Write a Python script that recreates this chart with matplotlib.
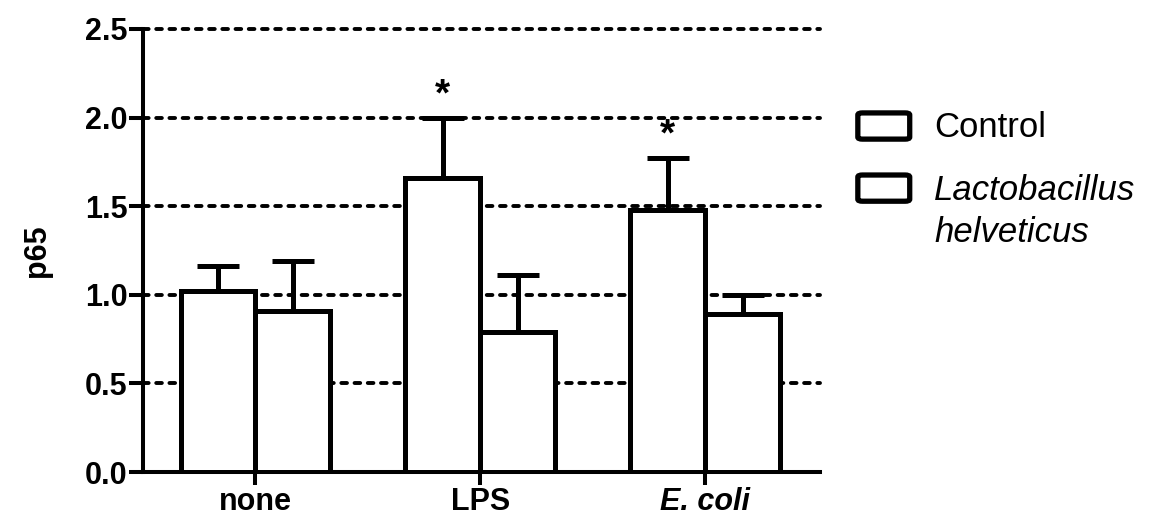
import matplotlib
matplotlib.use("Agg")
import matplotlib.pyplot as plt
import numpy as np
from matplotlib.patches import FancyBboxPatch

plt.rcParams["font.family"] = ["Liberation Sans", "DejaVu Sans"]

categories = ["none", "LPS", "E. coli"]
control = [1.02, 1.66, 1.48]
control_err = [0.14, 0.34, 0.29]
helveticus = [0.91, 0.79, 0.89]
helveticus_err = [0.28, 0.32, 0.11]
significant = [False, True, True]

WIDTH = 0.333
LW = 3.6

fig = plt.figure(figsize=(11.53, 5.24), dpi=100)
ax = fig.add_axes([0.124, 0.0992, 0.587, 0.8455])

x = np.arange(len(categories))
xc = x - WIDTH / 2
xh = x + WIDTH / 2

ax.bar(xc, control, WIDTH, color="white", edgecolor="black", linewidth=LW, zorder=3)
ax.bar(xh, helveticus, WIDTH, color="white", edgecolor="black", linewidth=LW, zorder=3)
for xs, vals, errs in [(xc, control, control_err), (xh, helveticus, helveticus_err)]:
    ax.errorbar(xs, vals, yerr=[np.zeros(len(errs)), errs], fmt="none", ecolor="black",
                elinewidth=LW, capsize=15, capthick=LW, zorder=2)

for xi, v, e, sig in zip(xc, control, control_err, significant):
    if sig:
        ax.annotate("*", (xi, v + e), xytext=(0, 9), textcoords="offset points",
                    ha="center", va="baseline", fontsize=28, fontweight="bold")

ax.set_xlim(-0.5, 2.51)
ax.set_ylim(0, 2.5)
ax.set_yticks([0, 0.5, 1.0, 1.5, 2.0, 2.5])
ax.set_yticklabels([f"{t:.1f}" for t in ax.get_yticks()], fontsize=22, fontweight="bold")
ax.set_xticks(x)
ax.set_xticklabels(categories, fontsize=22, fontweight="bold")
ax.get_xticklabels()[2].set_style("italic")
ax.set_ylabel("p65", fontsize=22, fontweight="bold", labelpad=24)

ax.yaxis.grid(True, color="black", linestyle=(0, (1.45, 1.95)), linewidth=2.8,
              dash_capstyle="round")
for gl in ax.get_ygridlines():
    gl.set_clip_on(False)
ax.set_axisbelow(True)
for s in ["top", "right"]:
    ax.spines[s].set_visible(False)
for s in ["left", "bottom"]:
    ax.spines[s].set_linewidth(2.9)
ax.tick_params(axis="y", width=2.9, length=10, pad=1)
ax.tick_params(axis="x", width=2.9, length=9, pad=2)

# legend drawn by hand so the handle lines up with the first line of the label
legend_rows = [
    (0.7595, 0.7385, ["Control"], "normal"),
    (0.641, 0.618, ["Lactobacillus", "helveticus"], "italic"),
]
for yc, ybase, lines, style in legend_rows:
    box = FancyBboxPatch((0.744, yc - 0.025), 0.045, 0.05, boxstyle="round,pad=0,rounding_size=0.004",
                         transform=fig.transFigure, facecolor="white", edgecolor="black", linewidth=3.8)
    fig.add_artist(box)
    for i, line in enumerate(lines):
        fig.text(0.810, ybase - i * 0.08, line, fontsize=25, style=style,
                 va="baseline", ha="left")

fig.savefig("out.png", dpi=100)
